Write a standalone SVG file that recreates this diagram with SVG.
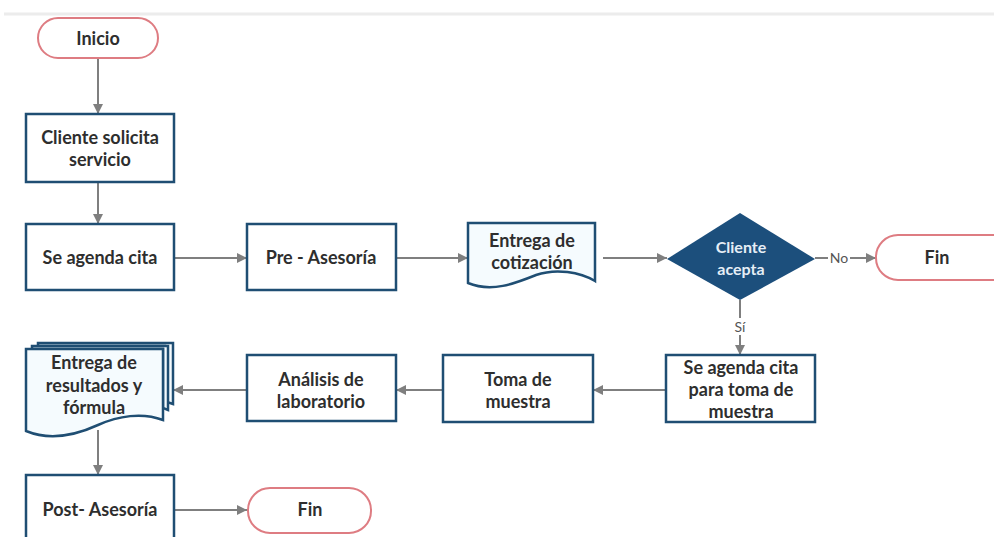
<svg xmlns="http://www.w3.org/2000/svg" width="994" height="537" viewBox="0 0 994 537">
<defs>
<marker id="arr" viewBox="0 0 10 10" refX="10" refY="5" markerWidth="5" markerHeight="5" markerUnits="strokeWidth" orient="auto">
<path d="M0,0 L10,5 L0,10 Z" fill="#7f7f7f"/>
</marker>
</defs>
<style>
.box{fill:#ffffff;stroke:#1f4e73;stroke-width:2.5}
.doc{fill:#f5fbfe;stroke:#1f4e73;stroke-width:2.5}
.pill{fill:#ffffff;stroke:#de7c82;stroke-width:2}
.dia{fill:#1c4f7c;stroke:none}
.t{font-family:Lato,"Liberation Sans",sans-serif;font-size:18px;font-weight:700;fill:#2e2e2e;text-anchor:middle}
.tw{font-family:Lato,"Liberation Sans",sans-serif;font-size:16px;font-weight:700;fill:#e6eef6;text-anchor:middle}
.lbl{font-family:Lato,"Liberation Sans",sans-serif;font-size:14px;fill:#555555;text-anchor:middle}
.c{fill:none;stroke:#7f7f7f;stroke-width:2;marker-end:url(#arr)}
</style>
<rect width="994" height="537" fill="#ffffff"/>
<line x1="4" y1="14" x2="994" y2="14" stroke="#ececec" stroke-width="3"/>

<g id="connectors">
<line class="c" x1="98" y1="58" x2="98" y2="114"/>
<line class="c" x1="98" y1="182" x2="98" y2="224"/>
<line class="c" x1="174" y1="258" x2="247" y2="258"/>
<line class="c" x1="396" y1="258" x2="468" y2="258"/>
<line class="c" x1="603" y1="258" x2="667" y2="258"/>
<line class="c" x1="815" y1="258" x2="876" y2="258"/>
<rect x="828" y="249" width="22" height="17" fill="#ffffff"/>
<text class="lbl" x="839" y="263">No</text>
<line class="c" x1="740" y1="300" x2="740" y2="355"/>
<rect x="731" y="318" width="18" height="17" fill="#ffffff"/>
<text class="lbl" x="740" y="332">Sí</text>
<line class="c" x1="666" y1="390" x2="593" y2="390"/>
<line class="c" x1="443" y1="390" x2="396" y2="390"/>
<line class="c" x1="247" y1="390" x2="173" y2="390"/>
<line class="c" x1="98" y1="430" x2="98" y2="475"/>
<line class="c" x1="174" y1="510" x2="247" y2="510"/>
</g>

<g id="inicio">
<rect class="pill" x="38" y="18" width="120" height="40" rx="20"/>
<text class="t" x="98" y="45">Inicio</text>
</g>

<g id="cliente-solicita">
<rect class="box" x="26" y="114" width="148" height="68"/>
<text class="t" x="100" y="144">Cliente solicita</text>
<text class="t" x="100" y="166">servicio</text>
</g>

<g id="se-agenda-cita">
<rect class="box" x="26" y="224" width="148" height="66"/>
<text class="t" x="100" y="264">Se agenda cita</text>
</g>

<g id="pre-asesoria">
<rect class="box" x="247" y="224" width="149" height="66"/>
<text class="t" x="321" y="264">Pre - Asesoría</text>
</g>

<g id="entrega-cotizacion">
<path class="doc" d="M468,223 H595 V281 C580,272 556,268 536,275 C516,283 492,293 468,283 Z"/>
<text class="t" x="532" y="247">Entrega de</text>
<text class="t" x="532" y="269">cotización</text>
</g>

<g id="cliente-acepta">
<polygon class="dia" points="667,259 740,213 815,259 740,300"/>
<text class="tw" x="741" y="253">Cliente</text>
<text class="tw" x="741" y="275">acepta</text>
</g>

<g id="fin-no">
<rect class="pill" x="876" y="235" width="140" height="45" rx="22"/>
<text class="t" x="937" y="264">Fin</text>
</g>

<g id="se-agenda-toma">
<rect class="box" x="666" y="355" width="149" height="67"/>
<text class="t" x="741" y="374">Se agenda cita</text>
<text class="t" x="741" y="396">para toma de</text>
<text class="t" x="741" y="418">muestra</text>
</g>

<g id="toma-muestra">
<rect class="box" x="443" y="355" width="150" height="67"/>
<text class="t" x="518" y="386">Toma de</text>
<text class="t" x="518" y="408">muestra</text>
</g>

<g id="analisis">
<rect class="box" x="247" y="355" width="149" height="66"/>
<text class="t" x="321" y="386">Análisis de</text>
<text class="t" x="321" y="408">laboratorio</text>
</g>

<g id="entrega-resultados">
<path class="doc" d="M38,343 H173 V404 C168,402 166,402 165,402 V346 H38 Z"/>
<path class="doc" d="M32,346 H168 V410 C165,409 164,408 163,408 V349 H32 Z"/>
<path class="doc" d="M26,349 H163 V420 C142,412 118,416 98,425 C74,436 48,440 26,431 Z"/>
<text class="t" x="94" y="369">Entrega de</text>
<text class="t" x="94" y="392">resultados y</text>
<text class="t" x="94" y="414">fórmula</text>
</g>

<g id="post-asesoria">
<rect class="box" x="26" y="475" width="148" height="70"/>
<text class="t" x="100" y="516">Post- Asesoría</text>
</g>

<g id="fin-final">
<rect class="pill" x="248" y="488" width="123" height="45" rx="22"/>
<text class="t" x="310" y="516">Fin</text>
</g>
</svg>
